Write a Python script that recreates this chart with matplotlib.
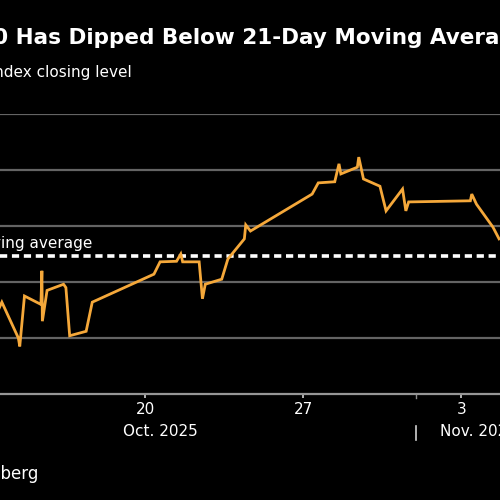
import matplotlib
matplotlib.use("Agg")
import matplotlib.pyplot as plt
import pandas as pd

# S&P 500 intraday path (index points)
times = [
    "2025-10-13 09:30", "2025-10-13 16:00",
    "2025-10-14 09:30", "2025-10-14 11:00", "2025-10-14 16:00",
    "2025-10-15 09:30", "2025-10-15 10:30", "2025-10-15 11:00", "2025-10-15 16:00",
    "2025-10-16 09:30", "2025-10-16 12:00", "2025-10-16 16:00",
    "2025-10-17 09:30", "2025-10-17 10:00", "2025-10-17 16:00",
    "2025-10-20 09:30", "2025-10-20 16:00",
    "2025-10-21 09:30", "2025-10-21 14:00", "2025-10-21 16:00",
    "2025-10-22 09:30", "2025-10-22 13:00", "2025-10-22 16:00",
    "2025-10-23 09:30", "2025-10-23 16:00",
    "2025-10-24 09:30", "2025-10-24 11:00", "2025-10-24 16:00",
    "2025-10-27 09:30", "2025-10-27 16:00",
    "2025-10-28 09:30", "2025-10-28 14:00", "2025-10-28 16:00",
    "2025-10-29 09:30", "2025-10-29 11:00", "2025-10-29 16:00",
    "2025-10-30 09:30", "2025-10-30 12:00", "2025-10-30 16:00",
    "2025-10-31 09:30", "2025-10-31 13:00", "2025-10-31 16:00",
    "2025-11-03 09:30", "2025-11-03 11:00", "2025-11-03 16:00",
    "2025-11-04 09:30", "2025-11-04 16:00",
]
levels = [
    6640, 6664,
    6600, 6585, 6675,
    6660, 6720, 6630, 6685,
    6696, 6690, 6604,
    6612, 6616, 6664,
    6714, 6736,
    6737, 6750, 6736,
    6736, 6670, 6696,
    6705, 6741,
    6777, 6802, 6791,
    6857, 6877,
    6879, 6911, 6893,
    6905, 6923, 6884,
    6871, 6854, 6827,
    6866, 6827, 6843,
    6845, 6857, 6839,
    6798, 6777,
]
ma_level = 6746

tick_dates = ["2025-10-20", "2025-10-27", "2025-11-03"]
tick_labels = ["20", "27", "3"]

t = pd.to_datetime(times)
orange = "#f5a83a"
grey_txt = "#d0d0d0"

fig = plt.figure(figsize=(5, 5), dpi=100, facecolor="black")
ax = fig.add_axes([0, 1 - 394 / 500, 1, 280 / 500])
ax.set_facecolor("black")

ax.set_ylim(6500, 7000)
ax.set_yticks([6600, 6700, 6800, 6900, 7000])
ax.yaxis.grid(True, color="#646464", lw=1.6)
ax.tick_params(axis="y", left=False, labelleft=False)

x0 = pd.Timestamp("2025-10-20") - pd.Timedelta(days=145 / 22.6)
x1 = pd.Timestamp("2025-10-20") + pd.Timedelta(days=355 / 22.6)
ax.set_xlim(x0, x1)

for s in ["top", "left", "right"]:
    ax.spines[s].set_visible(False)
ax.spines["bottom"].set_color("#969696")
ax.spines["bottom"].set_linewidth(1.6)

ax.set_xticks(pd.to_datetime(tick_dates))
ax.set_xticklabels(tick_labels)
ax.tick_params(axis="x", colors=grey_txt, length=3, width=1.2, labelsize=11, pad=3)
ax.tick_params(axis="x", labelcolor="white")

# moving average and price line
ax.axhline(ma_level, color="white", lw=2.6, ls=(0, (2.0, 1.3)))
ax.plot(t, levels, color=orange, lw=2, solid_joinstyle="miter")

ax.annotate("21-day moving average", xy=(x0, ma_level), xycoords="data",
            xytext=(92, 5), textcoords="offset pixels", ha="right", va="bottom",
            color="white", fontsize=11)

# month labels
ax.annotate("Oct. 2025", xy=(pd.Timestamp("2025-10-20 16:00"), 0),
            xycoords=("data", "axes fraction"), xytext=(0, -38),
            textcoords="offset pixels", ha="center", va="center",
            color="white", fontsize=11)
nov1 = pd.Timestamp("2025-11-01")
ax.annotate("Nov. 2025", xy=(nov1, 0), xycoords=("data", "axes fraction"),
            xytext=(24, -38), textcoords="offset pixels", ha="left", va="center",
            color="white", fontsize=11)
ax.plot([nov1, nov1], [-0.115, -0.165], transform=ax.get_xaxis_transform(),
        color=grey_txt, lw=1.2, clip_on=False)
ax.plot([nov1, nov1], [0, -0.015], transform=ax.get_xaxis_transform(),
        color="#8a8a8a", lw=1.0, clip_on=False)

fig.text(-94 / 500, 1 - 38 / 500, "S&P 500 Has Dipped Below 21-Day Moving Average",
         color="white", fontsize=15.5, fontweight="bold", va="center", ha="left")
fig.text(-80 / 500, 1 - 72 / 500, "S&P 500 Index closing level",
         color="white", fontsize=11, va="center", ha="left")
fig.text(38 / 500, 1 - 474 / 500, "Source: Bloomberg",
         color="white", fontsize=12, va="center", ha="right")

fig.savefig("out.png", dpi=100, facecolor="black")
